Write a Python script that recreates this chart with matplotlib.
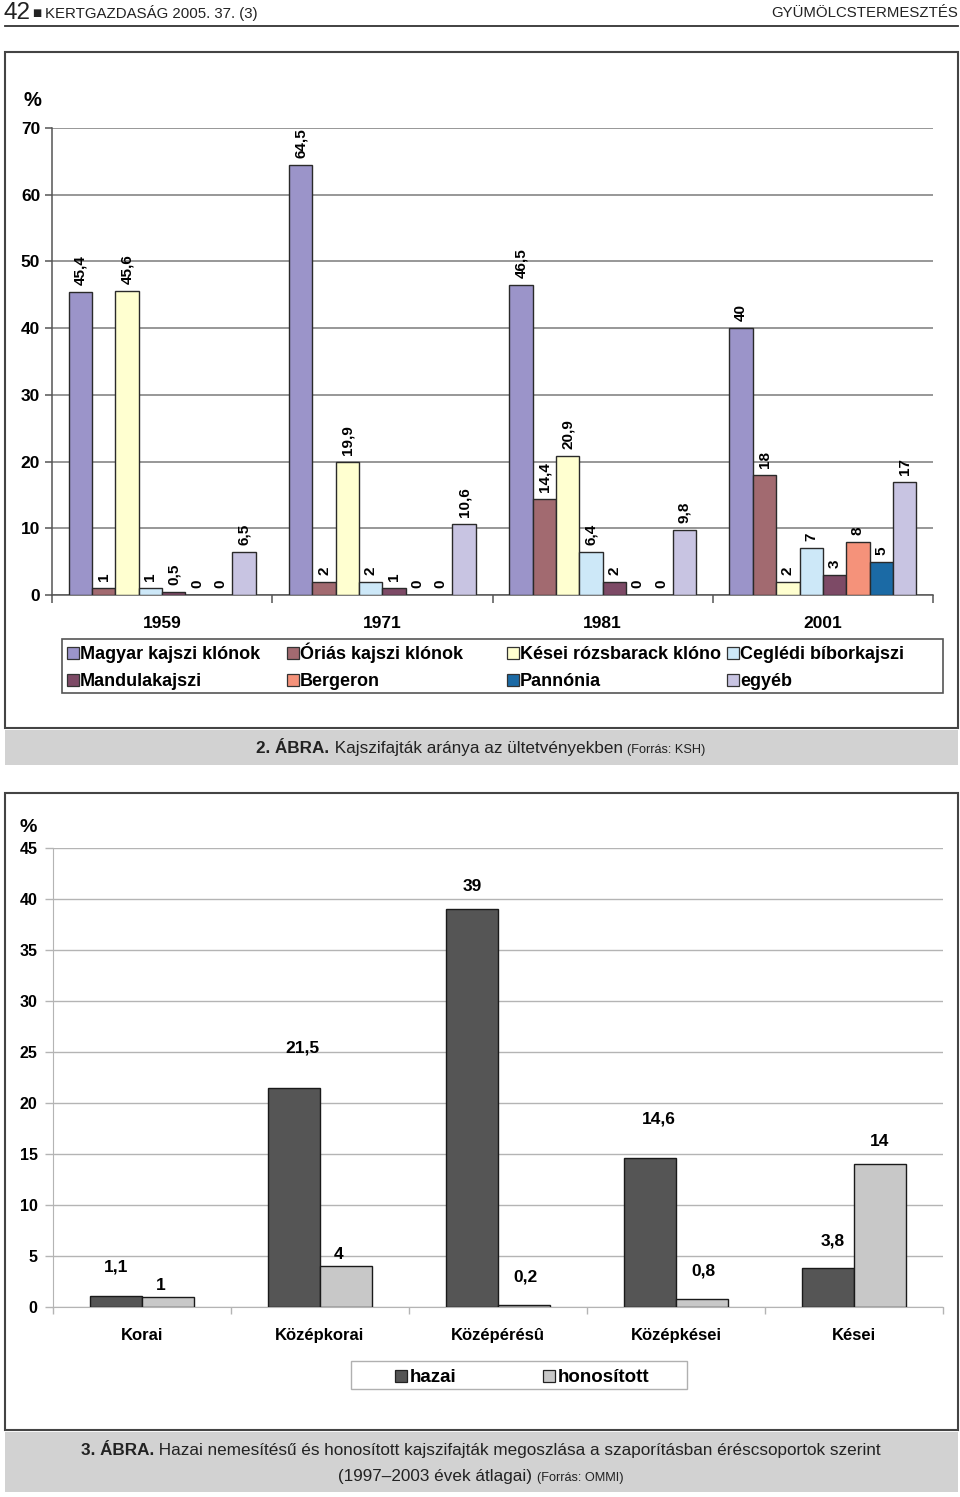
import matplotlib
matplotlib.use("Agg")
import matplotlib.pyplot as plt
from matplotlib.patches import Rectangle
import numpy as np

# ---------------- data ----------------
years = ["1959", "1971", "1981", "2001"]
series_names = ["Magyar kajszi klónok", "Óriás kajszi klónok", "Kései rózsbarack klóno",
                "Ceglédi bíborkajszi", "Mandulakajszi", "Bergeron", "Pannónia", "egyéb"]
magyar = [45.4, 64.5, 46.5, 40]
orias = [1, 2, 14.4, 18]
kesei = [45.6, 19.9, 20.9, 2]
cegledi = [1, 2, 6.4, 7]
mandula = [0.5, 1, 2, 3]
bergeron = [0, 0, 0, 8]
pannonia = [0, 0, 0, 5]
egyeb = [6.5, 10.6, 9.8, 17]
top_values = [magyar, orias, kesei, cegledi, mandula, bergeron, pannonia, egyeb]
top_yticks = [0, 10, 20, 30, 40, 50, 60, 70]

groups = ["Korai", "Középkorai", "Középérésû", "Középkései", "Kései"]
hazai = [1.1, 21.5, 39, 14.6, 3.8]
honositott = [1, 4, 0.2, 0.8, 14]
bottom_yticks = [0, 5, 10, 15, 20, 25, 30, 35, 40, 45]

# ---------------- styles ----------------
top_colors = ["#9b94c9", "#a26a70", "#ffffd0", "#cde8f8", "#7d4a66", "#f5927a", "#1b6aa5", "#c8c4e2"]
bot_colors = ["#555555", "#c8c8c8"]
FONT = "Liberation Sans"
W, H = 960, 1497

plt.rcParams["font.family"] = [FONT, "DejaVu Sans"]
fig = plt.figure(figsize=(W / 100, H / 100), dpi=100)


def fx(x):
    return x / W


def fy(y):
    return 1 - y / H


def rect_px(x0, y0, x1, y1, **kw):
    r = Rectangle((fx(x0), fy(y1)), fx(x1) - fx(x0), fy(y0) - fy(y1),
                  transform=fig.transFigure, **kw)
    fig.patches.append(r)
    return r


# ---------------- header ----------------
fig.text(fx(4), fy(13), "42", fontsize=17.5, va="center", ha="left", color="#222")
fig.text(fx(32), fy(13), "■", fontsize=7, va="center", ha="left", color="#222",
         family=["DejaVu Sans"])
fig.text(fx(45), fy(13), "KERTGAZDASÁG 2005. 37. (3)", fontsize=10.8,
         va="center", ha="left", color="#222")
fig.text(fx(958), fy(13), "GYÜMÖLCSTERMESZTÉS", fontsize=10.8,
         va="center", ha="right", color="#222")
fig.lines.append(plt.Line2D([fx(5), fx(958)], [fy(26), fy(26)], transform=fig.transFigure,
                            color="#333", lw=1.3))

# boxes and caption bands
rect_px(5, 52, 958, 728, facecolor="white", edgecolor="#444", lw=1.5, zorder=-5)
rect_px(5, 730, 958, 765, facecolor="#d2d2d2", edgecolor="none", zorder=-5)
rect_px(5, 793, 958, 1430, facecolor="white", edgecolor="#444", lw=1.5, zorder=-5)
rect_px(5, 1432, 958, 1492, facecolor="#d2d2d2", edgecolor="none", zorder=-5)

renderer = fig.canvas.get_renderer()


def caption(parts, ybase):
    texts = []
    for s, size, weight in parts:
        t = fig.text(0, fy(ybase), s, fontsize=size, fontweight=weight,
                     va="baseline", ha="left", color="#222")
        texts.append(t)
    widths = [t.get_window_extent(renderer).width for t in texts]
    total = sum(widths)
    x = 481 - total / 2
    for t, w in zip(texts, widths):
        t.set_x(fx(x))
        x += w


caption([("2. ÁBRA.", 12.3, "bold"), (" Kajszifajták aránya az ültetvényekben ", 12.3, "normal"),
         ("(Forrás: KSH)", 9.2, "normal")], 753)
caption([("3. ÁBRA.", 12.3, "bold"),
         (" Hazai nemesítésű és honosított kajszifajták megoszlása a szaporításban éréscsoportok szerint", 12.3, "normal")],
        1455)
caption([("(1997–2003 évek átlagai) ", 12.3, "normal"), ("(Forrás: OMMI)", 9.2, "normal")], 1481)

# ---------------- top chart ----------------
ax1 = fig.add_axes([fx(52), fy(595), fx(933) - fx(52), fy(128) - fy(595)], zorder=2)
ax1.patch.set_visible(False)
nser = len(top_values)
bw = 0.106
xc = np.arange(len(years))
for j, (vals, col, name) in enumerate(zip(top_values, top_colors, series_names)):
    xs = xc + (j - (nser - 1) / 2) * bw
    ax1.bar(xs, vals, width=bw, color=col, edgecolor="#2a2a2a", lw=1.0, zorder=3, label=name)
    for x, v in zip(xs, vals):
        lab = f"{v:g}".replace(".", ",")
        ax1.annotate(lab, (x, v), xytext=(0, 5), textcoords="offset points", rotation=90,
                     ha="center", va="bottom", fontsize=11, fontweight="bold", zorder=4)
ax1.set_xlim(-0.5, len(years) - 0.5)
ax1.set_ylim(0, 70)
ax1.set_yticks(top_yticks)
ax1.set_yticklabels([str(v) for v in top_yticks], fontsize=12.5, fontweight="bold")
ax1.yaxis.grid(True, color="#7a7a7a", lw=1.1, zorder=0)
ax1.set_axisbelow(True)
ax1.set_xticks(xc)
ax1.set_xticklabels(years, fontsize=12.5, fontweight="bold")
ax1.tick_params(axis="x", length=0, pad=15)
ax1.set_xticks(np.arange(len(years) + 1) - 0.5, minor=True)
ax1.tick_params(axis="x", which="minor", length=6, color="#555", width=1.1)
ax1.tick_params(axis="y", length=5, color="#555", width=1.1, pad=3.5)
for s in ["top", "right"]:
    ax1.spines[s].set_visible(False)
for s in ["left", "bottom"]:
    ax1.spines[s].set_color("#555")
    ax1.spines[s].set_linewidth(1.1)
ax1.text(-0.012, 1.058, "%", transform=ax1.transAxes, fontsize=14.5, fontweight="bold",
         ha="right", va="center")

# top legend (grid of 4 columns x 2 rows)
rect_px(62, 639, 943, 693, facecolor="white", edgecolor="#555", lw=1.2, zorder=1)
for k, (name, col) in enumerate(zip(series_names, top_colors)):
    r, c = divmod(k, 4)
    x0 = 67 + c * 220
    yc = 653 + r * 27
    rect_px(x0, yc - 6, x0 + 12, yc + 6, facecolor=col, edgecolor="#333", lw=0.9, zorder=2)
    fig.text(fx(x0 + 13), fy(yc + 6), name, fontsize=13, fontweight="bold", va="baseline",
             ha="left", zorder=3)

# ---------------- bottom chart ----------------
ax2 = fig.add_axes([fx(53), fy(1307), fx(943) - fx(53), fy(848) - fy(1307)], zorder=2)
ax2.patch.set_visible(False)
gx = np.arange(len(groups))
bw2 = 0.29
label_dy = [[15, 3], [23, 3], [11, 15], [23, 15], [14, 11]]
label_dx = [[0, -5], [6, -5], [0, 1], [6, 1.5], [3, 0]]
for j, (vals, col, name) in enumerate(zip([hazai, honositott], bot_colors, ["hazai", "honosított"])):
    xs = gx + (j - 0.5) * bw2
    ax2.bar(xs, vals, width=bw2, color=col, edgecolor="#1a1a1a", lw=1.0, zorder=3, label=name)
    for i, (x, v) in enumerate(zip(xs, vals)):
        lab = f"{v:g}".replace(".", ",")
        ax2.annotate(lab, (x, v), xytext=(label_dx[i][j], label_dy[i][j]),
                     textcoords="offset points",
                     ha="center", va="bottom", fontsize=12.5, fontweight="bold", zorder=4)
ax2.set_xlim(-0.5, len(groups) - 0.5)
ax2.set_ylim(0, 45)
ax2.set_yticks(bottom_yticks)
ax2.set_yticklabels([str(v) for v in bottom_yticks], fontsize=11.5, fontweight="bold")
ax2.yaxis.grid(True, color="#b4b4b4", lw=1.0, zorder=0)
ax2.set_axisbelow(True)
ax2.set_xticks(gx)
ax2.set_xticklabels(groups, fontsize=12, fontweight="bold")
ax2.tick_params(axis="x", length=0, pad=15)
ax2.set_xticks(np.arange(len(groups) + 1) - 0.5, minor=True)
ax2.tick_params(axis="x", which="minor", length=5, color="#b4b4b4", width=1.0)
ax2.tick_params(axis="y", length=6, color="#b4b4b4", width=1.0, pad=5)
for s in ["top", "right"]:
    ax2.spines[s].set_visible(False)
for s in ["left", "bottom"]:
    ax2.spines[s].set_color("#b4b4b4")
ax2.text(-0.018, 1.045, "%", transform=ax2.transAxes, fontsize=14, fontweight="bold",
         ha="right", va="center")

# bottom legend
rect_px(351, 1361, 687, 1389, facecolor="white", edgecolor="#b0b0b0", lw=1.0, zorder=1)
for (name, col, x0) in zip(["hazai", "honosított"], bot_colors, [395, 543]):
    yc = 1376
    rect_px(x0, yc - 6, x0 + 12, yc + 6, facecolor=col, edgecolor="#222", lw=0.9, zorder=2)
    fig.text(fx(x0 + 15), fy(yc + 6), name, fontsize=13.5, fontweight="bold", va="baseline",
             ha="left", zorder=3)

fig.savefig("out.png", dpi=100)
